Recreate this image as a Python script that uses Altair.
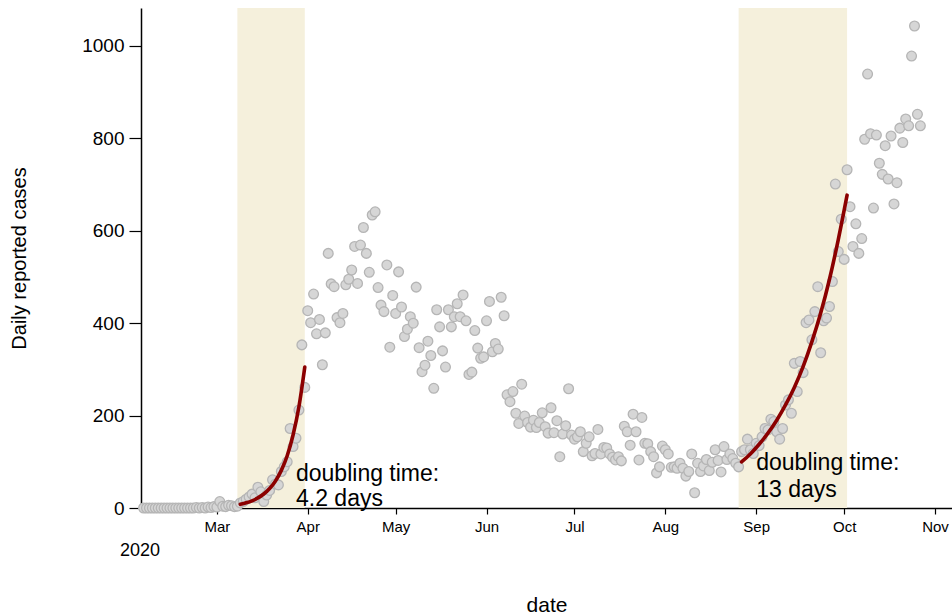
import altair as alt
import pandas as pd

# ---- data ----
start_date = "2020-02-05"
cases = [
    # Feb 5 - Feb 29
    0, 0, 0, 0, 0, 0, 0, 0, 0, 0, 0, 0, 0, 0, 0, 0, 0, 0, 1, 0, 1, 0, 2, 1, 3,
    # Mar 1 - Mar 31
    2, 14, 4, 3, 6, 5, 3, 4, 11, 14, 19, 24, 30, 22, 45, 35, 14, 28, 38, 61,
    52, 50, 79, 89, 100, 172, 133, 151, 212, 353, 261,
    # Apr 1 - Apr 30
    427, 401, 463, 377, 408, 310, 379, 551, 485, 479, 412, 401, 421, 483, 495,
    515, 566, 486, 569, 607, 551, 510, 634, 641, 477, 439, 425, 526, 348, 460,
    # May 1 - May 31
    421, 511, 435, 371, 387, 414, 400, 478, 347, 295, 309, 361, 330, 259, 429,
    392, 340, 305, 429, 392, 414, 442, 414, 461, 405, 289, 294, 384, 346, 324, 327,
    # Jun 1 - Jun 30
    405, 447, 338, 356, 344, 456, 416, 245, 230, 252, 205, 183, 268, 199, 185,
    175, 190, 174, 185, 206, 176, 162, 217, 163, 189, 111, 160, 178, 258, 158,
    # Jul 1 - Jul 31
    149, 154, 165, 122, 140, 154, 113, 118, 170, 117, 131, 130, 117, 110, 104,
    111, 102, 177, 165, 136, 203, 165, 104, 196, 140, 139, 122, 111, 76, 89, 134,
    # Aug 1 - Aug 31
    126, 117, 88, 89, 86, 97, 86, 69, 79, 117, 33, 97, 79, 91, 105,
    81, 99, 126, 103, 78, 133, 105, 117, 107, 97, 89, 122, 126, 149, 126, 118,
    # Sep 1 - Sep 30
    140, 135, 154, 172, 169, 192, 187, 165, 149, 172, 223, 234, 205, 313, 252,
    317, 293, 401, 407, 364, 425, 479, 336, 405, 411, 436, 490, 701, 555, 625,
    # Oct 1 - Oct 27
    538, 732, 652, 566, 615, 551, 583, 798, 939, 810, 649, 807, 746, 722, 784,
    712, 805, 658, 704, 822, 791, 842, 827, 978, 1043, 852, 827,
]

fit1_dates = ["2020-03-09", "2020-03-11", "2020-03-13", "2020-03-15", "2020-03-17",
              "2020-03-19", "2020-03-21", "2020-03-23", "2020-03-25", "2020-03-27",
              "2020-03-29", "2020-03-31"]
fit1_values = [8, 11.3, 15.6, 21.8, 30.3, 42.1, 58.5, 81.4, 113, 158, 219, 305]

fit2_dates = ["2020-08-27", "2020-08-30", "2020-09-02", "2020-09-05", "2020-09-08",
              "2020-09-11", "2020-09-14", "2020-09-17", "2020-09-20", "2020-09-23",
              "2020-09-26", "2020-09-29", "2020-10-02"]
fit2_values = [100, 117, 138, 162, 190, 223, 261, 306, 360, 422, 495, 581, 677]

shade_start = ["2020-03-08", "2020-08-26"]
shade_end = ["2020-03-31", "2020-10-02"]

ann_dates = ["2020-03-28", "2020-03-28", "2020-09-01", "2020-09-01"]
ann_values = [74, 20, 97, 39]
ann_texts = ["doubling time:", "4.2 days", "doubling time:", "13 days"]

month_numbers = [3, 4, 5, 6, 7, 8, 9, 10, 11]
y_ticks = [0, 200, 400, 600, 800, 1000]

# ---- tables ----
dates = pd.date_range(start_date, periods=len(cases), freq="D").strftime("%Y-%m-%d").tolist()
pts = pd.DataFrame({"date": dates, "cases": cases})
fits = pd.DataFrame({
    "date": fit1_dates + fit2_dates,
    "cases": fit1_values + fit2_values,
    "fit": ["a"] * len(fit1_dates) + ["b"] * len(fit2_dates),
})
shades = pd.DataFrame({"start": shade_start, "end": shade_end})
ann = pd.DataFrame({"date": ann_dates, "cases": ann_values, "label": ann_texts})

FONT = "Liberation Sans"

x_scale = alt.Scale(
    type="utc",
    domain=[alt.DateTime(year=2020, month=2, date=4, hours=3, utc=True),
            alt.DateTime(year=2020, month=11, date=6, hours=19, utc=True)],
)
y_scale = alt.Scale(domain=[0, 1082], nice=False, zero=True)

x_axis = alt.Axis(
    values=[alt.DateTime(year=2020, month=m, date=1, utc=True) for m in month_numbers],
    labelExpr="utcFormat(datum.value, '%b')", title="date", grid=False,
    labelFontSize=15, labelPadding=5, tickSize=6, tickWidth=1.2,
    titleFontSize=21, titlePadding=60, titleFontWeight="normal",
    domainColor="black", domainWidth=1.5, tickColor="black",
    labelColor="black", titleColor="black", labelFont=FONT, titleFont=FONT,
)
y_axis = alt.Axis(
    values=y_ticks, format="d", title="Daily reported cases", grid=False,
    labelFontSize=19, labelPadding=5, tickSize=12, tickWidth=1.2,
    titleFontSize=20, titlePadding=52, titleFontWeight="normal",
    domainColor="black", domainWidth=1.5, tickColor="black",
    labelColor="black", titleColor="black", labelFont=FONT, titleFont=FONT,
)

shade = alt.Chart(shades).mark_rect(color="#f5f0dc").encode(
    x=alt.X("start:T", scale=x_scale, axis=x_axis),
    x2="end:T",
)

points = alt.Chart(pts).mark_circle(
    size=95, color="#d6d6d6", stroke="#b5b5b5", strokeWidth=1.3, opacity=1
).encode(
    x=alt.X("date:T", scale=x_scale, axis=x_axis),
    y=alt.Y("cases:Q", scale=y_scale, axis=y_axis),
)

lines = alt.Chart(fits).mark_line(
    color="#8b0000", strokeWidth=3.6, interpolate="monotone", strokeCap="round"
).encode(
    x=alt.X("date:T", scale=x_scale),
    y=alt.Y("cases:Q", scale=y_scale),
    detail="fit:N",
)

texts = alt.Chart(ann).mark_text(
    align="left", baseline="middle", fontSize=23, font=FONT, color="black"
).encode(
    x=alt.X("date:T", scale=x_scale),
    y=alt.Y("cases:Q", scale=y_scale),
    text="label:N",
)

year = alt.Chart(pd.DataFrame({"t": ["2020"]})).mark_text(
    align="center", baseline="middle", fontSize=18, font=FONT, color="black"
).encode(
    x=alt.value(-1), y=alt.value(543), text="t:N",
)

chart = alt.layer(shade, points, lines, texts, year).properties(
    width=811, height=500,
    autosize=alt.AutoSizeParams(type="none"),
    padding={"left": 141, "top": 8, "right": 0, "bottom": 107},
    background="white",
).configure(font=FONT).configure_view(stroke=None)

chart.save("out.html", embed_options={"renderer": "svg", "actions": False})
